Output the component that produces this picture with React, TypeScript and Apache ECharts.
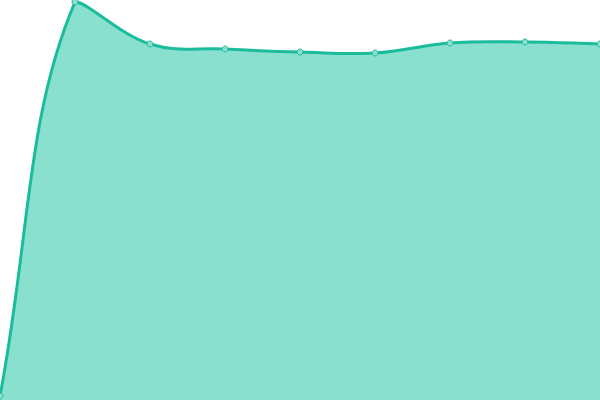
import {useEffect, useRef} from 'react';
import * as echarts from 'echarts';

const categories = ['1', '2', '3', '4', '5', '6', '7', '8', '9'];
const values = [4, 398, 356, 351, 348, 347, 357, 358, 356];

const LINE = '#1abc9c';
const FILL = '#8ae0cf';
const TENSION = 0.4;

// cubic spline with control points kept inside the plot area
function buildPaths(pts: number[][], area: {x: number; y: number; width: number; height: number}) {
    const clamp = (v: number, lo: number, hi: number) => Math.max(lo, Math.min(hi, v));
    const cps = pts.map((cur, i) => {
        const prev = pts[i - 1] || cur;
        const next = pts[i + 1] || cur;
        const d01 = Math.hypot(cur[0] - prev[0], cur[1] - prev[1]);
        const d12 = Math.hypot(next[0] - cur[0], next[1] - cur[1]);
        const sum = d01 + d12 || 1;
        const fa = TENSION * d01 / sum;
        const fb = TENSION * d12 / sum;
        const cx = (v: number) => clamp(v, area.x, area.x + area.width);
        const cy = (v: number) => clamp(v, area.y, area.y + area.height);
        return {
            prev: [cx(cur[0] - fa * (next[0] - prev[0])), cy(cur[1] - fa * (next[1] - prev[1]))],
            next: [cx(cur[0] + fb * (next[0] - prev[0])), cy(cur[1] + fb * (next[1] - prev[1]))]
        };
    });
    let line = `M${pts[0][0]},${pts[0][1]}`;
    for (let i = 1; i < pts.length; i++) {
        const a = cps[i - 1].next;
        const b = cps[i].prev;
        line += ` C${a[0]},${a[1]} ${b[0]},${b[1]} ${pts[i][0]},${pts[i][1]}`;
    }
    const bottom = area.y + area.height;
    const fill = line + ` L${pts[pts.length - 1][0]},${bottom} L${pts[0][0]},${bottom} Z`;
    return {line, fill};
}

export default function App() {
    const ref = useRef<HTMLDivElement | null>(null);

    useEffect(() => {
        document.body.style.margin = '0';
        if (!ref.current) return;
        const chart = echarts.init(ref.current, null, {renderer: 'svg'});
        chart.setOption({
            animation: false,
            grid: {left: 0, right: 0, top: 0, bottom: 0},
            xAxis: {type: 'category', data: categories, boundaryGap: false, show: false},
            yAxis: {type: 'value', min: 0, max: 400, show: false},
            series: [
                {
                    type: 'custom',
                    data: values.map((v, i) => [i, v]),
                    renderItem: (params: any, api: any) => {
                        if (params.dataIndex !== 0) return null;
                        const pts = values.map((v, i) => api.coord([i, v]));
                        const area = params.coordSys;
                        const {line, fill} = buildPaths(pts, area);
                        return {
                            type: 'group',
                            children: [
                                {type: 'path', shape: {pathData: fill}, style: {fill: FILL, stroke: 'none'}},
                                {type: 'path', shape: {pathData: line}, style: {fill: 'none', stroke: LINE, lineWidth: 3}}
                            ]
                        };
                    }
                },
                {
                    type: 'scatter',
                    data: values.map((v, i) => [i, v]),
                    symbol: 'circle',
                    symbolSize: 6,
                    itemStyle: {color: '#8ddece', borderColor: LINE, borderWidth: 1, opacity: 1}
                }
            ]
        });
        return () => chart.dispose();
    }, []);

    return <div ref={ref} style={{width: 600, height: 400}}/>;
}
